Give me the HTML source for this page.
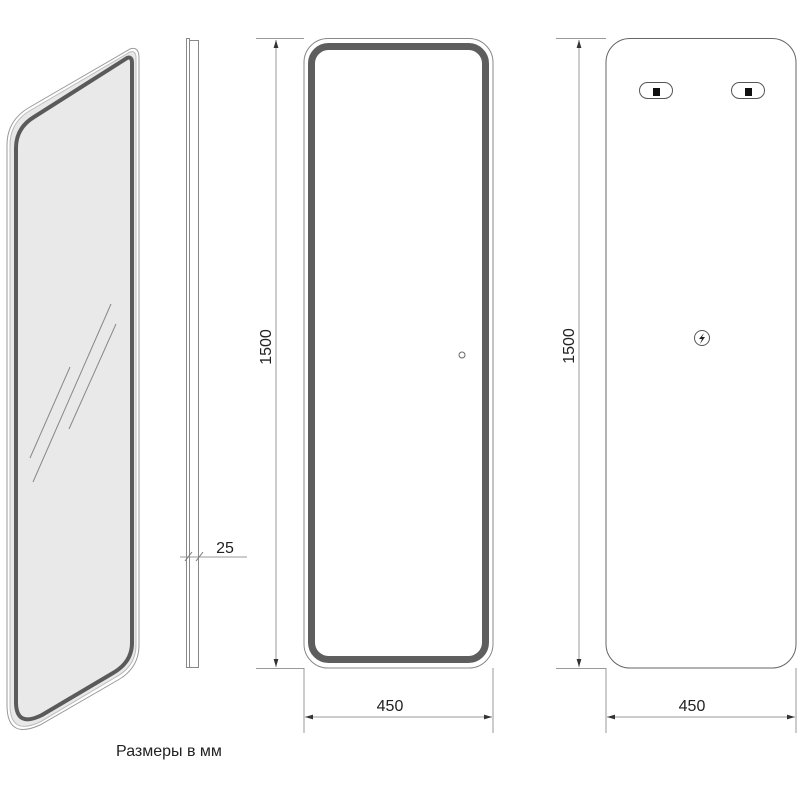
<!DOCTYPE html>
<html><head><meta charset="utf-8"><style>html,body{margin:0;padding:0;background:#fff}svg{display:block}</style></head><body>
<svg width="800" height="800" viewBox="0 0 800 800" xmlns="http://www.w3.org/2000/svg" font-family="Liberation Sans, DejaVu Sans, sans-serif">
<defs>
<marker id="ar" viewBox="0 0 10 10" refX="10" refY="5" markerWidth="8" markerHeight="8" orient="auto-start-reverse" markerUnits="userSpaceOnUse"><path d="M0,2 L10,5 L0,8 Z" fill="#333"/></marker>
</defs>
<!-- perspective panel -->
<path d="M130,49 Q139,46 139,58 L139,645 Q139,668 118,680 L40,725 Q7,740 7,705 L7,145 Q7,120 30,107 Z" fill="#fff" stroke="#999" stroke-width="1"/>
<path d="M130,52 Q136,50 136,58 L136,645 Q136,666 116,677 L40,722 Q10,736 10,705 L10,145 Q10,122 31,110 Z" fill="#e8e8e8" stroke="#bbb" stroke-width="1"/>
<path d="M127,58 Q132,56 132,63 L132,643 Q132,662 113,673 L42,715 Q16,728 16,702 L16,148 Q16,128 34,117 Z" fill="#e9e9e9" stroke="#5a5a5a" stroke-width="4"/>
<g stroke="#888" stroke-width="1">
<line x1="111" y1="304" x2="33" y2="482"/>
<line x1="116" y1="324" x2="69" y2="429"/>
<line x1="70" y1="367" x2="30" y2="458"/>
</g>
<!-- side profile -->
<rect x="186.5" y="38.5" width="3" height="629" fill="#fff" stroke="#888"/>
<rect x="189.5" y="40.5" width="9" height="627" fill="#fff" stroke="#888"/>
<line x1="180" y1="557" x2="247" y2="557" stroke="#999"/>
<line x1="185" y1="561" x2="192" y2="552" stroke="#777"/>
<line x1="196" y1="561" x2="203" y2="552" stroke="#777"/>
<text x="225" y="553" font-size="16" text-anchor="middle" fill="#222">25</text>
<!-- front -->
<rect x="304" y="38.5" width="189" height="629.5" rx="24" fill="#fff" stroke="#888"/>
<rect x="311.5" y="46.5" width="174" height="613" rx="17" fill="none" stroke="#5e5e5e" stroke-width="7"/>
<circle cx="462" cy="355" r="3" fill="none" stroke="#666"/>
<line x1="256" y1="38.5" x2="304" y2="38.5" stroke="#999"/>
<line x1="256" y1="668.5" x2="304" y2="668.5" stroke="#999"/>
<line x1="276" y1="40" x2="276" y2="667" stroke="#999" marker-start="url(#ar)" marker-end="url(#ar)"/>
<text transform="translate(271,347) rotate(-90)" font-size="16" text-anchor="middle" fill="#222">1500</text>
<line x1="304" y1="668" x2="304" y2="733" stroke="#999"/>
<line x1="493" y1="668" x2="493" y2="733" stroke="#999"/>
<line x1="305" y1="717" x2="492" y2="717" stroke="#999" marker-start="url(#ar)" marker-end="url(#ar)"/>
<text x="390" y="711" font-size="16" text-anchor="middle" fill="#222">450</text>
<!-- back -->
<rect x="606" y="38.5" width="190" height="629.5" rx="24" fill="#fff" stroke="#666"/>
<rect x="639.5" y="82.5" width="33" height="16" rx="8" fill="#fff" stroke="#555"/>
<rect x="653" y="88" width="7" height="8" fill="#111"/>
<rect x="731.5" y="82.5" width="33" height="16" rx="8" fill="#fff" stroke="#555"/>
<rect x="745" y="88" width="7" height="8" fill="#111"/>
<circle cx="702" cy="338" r="7.5" fill="#fff" stroke="#555"/>
<path d="M704,333 L699,339 L702,339 L700,344 L705,337 L702,337 Z" fill="#222"/>
<line x1="556" y1="38.5" x2="606" y2="38.5" stroke="#999"/>
<line x1="556" y1="668.5" x2="606" y2="668.5" stroke="#999"/>
<line x1="579" y1="40" x2="579" y2="667" stroke="#999" marker-start="url(#ar)" marker-end="url(#ar)"/>
<text transform="translate(574,346) rotate(-90)" font-size="16" text-anchor="middle" fill="#222">1500</text>
<line x1="606" y1="668" x2="606" y2="733" stroke="#999"/>
<line x1="796" y1="668" x2="796" y2="733" stroke="#999"/>
<line x1="607" y1="717" x2="795" y2="717" stroke="#999" marker-start="url(#ar)" marker-end="url(#ar)"/>
<text x="692" y="711" font-size="16" text-anchor="middle" fill="#222">450</text>
<text x="169" y="756" font-size="16" text-anchor="middle" fill="#222">Размеры в мм</text>
</svg>
</body></html>
